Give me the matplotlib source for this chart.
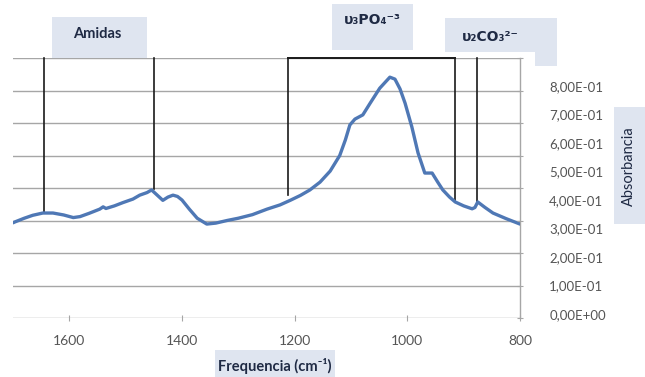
import matplotlib
matplotlib.use("Agg")
import matplotlib.pyplot as plt
from matplotlib.patches import Rectangle

plt.rcParams['font.family'] = ['Lato', 'DejaVu Sans']

# spectrum (wavenumber cm-1, absorbance in gridline scale)
wavenumber = [1700, 1696, 1680, 1665, 1647, 1629, 1610, 1593, 1581, 1565, 1546, 1540, 1535, 1520,
              1505, 1487, 1475, 1462, 1454, 1444, 1434, 1425, 1416, 1408, 1400, 1387, 1373,
              1356, 1340, 1320, 1300, 1275, 1249, 1226, 1208, 1190, 1173, 1155, 1137, 1120,
              1110, 1102, 1093, 1079, 1066, 1049, 1031, 1022, 1013, 1004, 992, 981, 969,
              956, 946, 937, 925, 915, 900, 885, 880, 875, 862, 848, 825, 800]
absorb = [0.293, 0.296, 0.307, 0.316, 0.323, 0.323, 0.317, 0.309, 0.312, 0.322, 0.335, 0.342, 0.337, 0.345,
          0.355, 0.366, 0.378, 0.386, 0.394, 0.378, 0.362, 0.372, 0.378, 0.374, 0.363, 0.335, 0.307,
          0.289, 0.292, 0.300, 0.307, 0.318, 0.335, 0.348, 0.362, 0.377, 0.394, 0.418, 0.452, 0.500,
          0.548, 0.594, 0.612, 0.625, 0.661, 0.707, 0.741, 0.735, 0.705, 0.661, 0.588, 0.508, 0.446,
          0.446, 0.418, 0.394, 0.372, 0.357, 0.345, 0.336, 0.340, 0.357, 0.340, 0.323, 0.306, 0.289]

x_ticks = [1600, 1400, 1200, 1000, 800]
y_grid = [0.0, 0.1, 0.2, 0.3, 0.4, 0.5, 0.6, 0.7, 0.8]
y_label_vals = [0.0, 0.1, 0.2, 0.3, 0.4, 0.5, 0.6, 0.7, 0.8]
y_labels = ['0,00E+00', '1,00E-01', '2,00E-01', '3,00E-01', '4,00E-01',
            '5,00E-01', '6,00E-01', '7,00E-01', '8,00E-01']

# band markers: position, curve value at bottom
amid_pos = [1645, 1450]
amid_bot = [0.323, 0.397]
po4_pos = [1212, 915]
po4_bot = [0.378, 0.357]
co3_pos = [876]
co3_bot = [0.357]
marker_top = 0.8

W, H = 645, 377
fig = plt.figure(figsize=(W / 100, H / 100), dpi=100)
fig.patch.set_facecolor('white')
ax = fig.add_axes([13 / W, 1 - 318 / H, (520 - 13) / W, (318 - 58) / H])
ax.set_xlim(1700, 800)
ax.set_ylim(0, 0.8)
for s in ['left', 'top', 'bottom']:
    ax.spines[s].set_visible(False)
ax.spines['right'].set_color('#a6a6a6')
ax.spines['right'].set_linewidth(1.0)
for g in y_grid:
    ax.axhline(g, color='#a6a6a6', lw=1.0, zorder=1)

ax.set_xticks(x_ticks)
ax.set_xticklabels([str(t) for t in x_ticks])
ax.tick_params(axis='x', direction='inout', length=5, color='#a6a6a6', pad=10,
               labelsize=10, labelcolor='#555555')
ax.set_yticks([])

ax2 = ax.twinx()
ax2.set_ylim(-0.0136, 0.8987)
for s in ['left', 'top', 'bottom', 'right']:
    ax2.spines[s].set_visible(False)
ax2.set_yticks(y_label_vals)
ax2.set_yticklabels(y_labels)
ax2.tick_params(axis='y', length=0, pad=21, labelsize=9.5, labelcolor='#555555')
for lab in ax2.get_yticklabels():
    lab.set_horizontalalignment('left')

# right-axis tick crosses at gridlines
ax3 = ax.twinx()
ax3.set_ylim(0, 0.8)
for s in ['left', 'top', 'bottom', 'right']:
    ax3.spines[s].set_visible(False)
ax3.set_yticks(y_grid)
ax3.set_yticklabels([])
ax3.tick_params(axis='y', direction='inout', length=5, color='#a6a6a6')

# band marker lines
for p, b in zip(amid_pos + po4_pos + co3_pos, amid_bot + po4_bot + co3_bot):
    ax.plot([p, p], [b, marker_top], color='#1a1a1a', lw=1.2, zorder=3, clip_on=False)
ax.plot(po4_pos, [marker_top, marker_top], color='#1a1a1a', lw=1.4, zorder=3, clip_on=False)

ax.plot(wavenumber, absorb, color='#4f78b5', lw=2.4, solid_joinstyle='round',
        solid_capstyle='round', zorder=4)

box_color = '#dfe5f0'
def fig_box(x0, y0, x1, y1):
    fig.patches.append(Rectangle((x0 / W, 1 - y1 / H), (x1 - x0) / W, (y1 - y0) / H,
                                 transform=fig.transFigure, facecolor=box_color,
                                 edgecolor='none', zorder=5))

fig_box(52, 17, 147, 58)
fig.text(97 / W, 1 - 34 / H, 'Amidas', ha='center', va='center', fontsize=10.5,
         fontweight='bold', color='#1f2a44', zorder=6)

fig_box(332, 4, 413, 50)
fig.text(372 / W, 1 - 20 / H, 'υ₃PO₄⁻³', ha='center', va='center', fontsize=10,
         fontweight='bold', color='#1f2a44', zorder=6, family=['DejaVu Sans'])

fig_box(445, 18, 557, 52)
fig_box(535, 40, 557, 66)
fig.text(490 / W, 1 - 37 / H, 'υ₂CO₃²⁻', ha='center', va='center', fontsize=10,
         fontweight='bold', color='#1f2a44', zorder=6, family=['DejaVu Sans'])

fig_box(614, 107, 645, 224)
fig.text(629 / W, 1 - 166 / H, 'Absorbancia', ha='center', va='center', fontsize=10.5,
         rotation=90, color='#1f2a44', zorder=6)

fig_box(215, 350, 335, 377)
fig.text(275 / W, 1 - 366 / H, 'Frequencia (cm⁻¹)', ha='center', va='center', fontsize=10.5,
         fontweight='bold', color='#1f2a44', zorder=6, family=['Lato', 'DejaVu Sans'])

fig.savefig('out.png', dpi=100)
